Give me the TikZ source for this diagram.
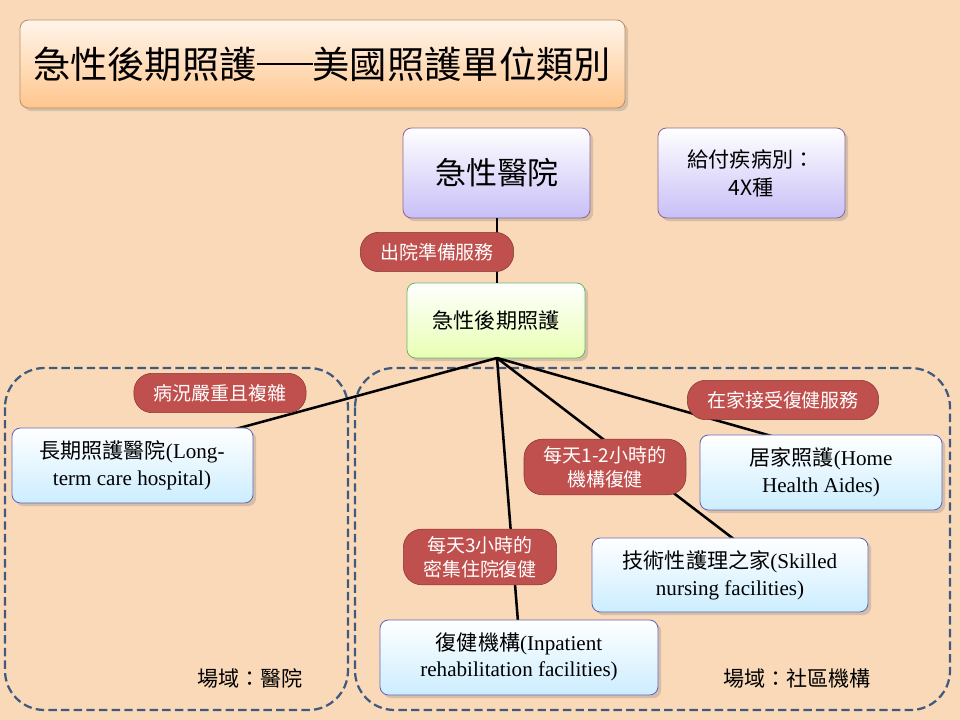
\documentclass[tikz,border=0pt]{standalone}
\usepackage{fontspec}
\setmainfont{Liberation Serif}
\newfontfamily\cjk{Noto Sans CJK TC}
\usetikzlibrary{shadows}
\definecolor{bg}{HTML}{FAD9B8}
\definecolor{pillred}{HTML}{C0504D}
\definecolor{frame}{HTML}{3F5A80}
\tikzset{
  box/.style={draw=#1!55!black!60, rounded corners=6pt, drop shadow={opacity=.3}, line width=.6pt},
  pill/.style={fill=pillred, draw=pillred!70!black, rounded corners=13pt, text=white, font=\cjk\fontsize{13.5}{17}\selectfont, align=center, inner xsep=14pt, minimum height=28pt},
  link/.style={line width=1.8pt, black},
  area/.style={draw=frame, dash pattern=on 6pt off 3pt, line width=1.6pt, rounded corners=28pt}
}
\begin{document}
\begin{tikzpicture}[x=0.025cm,y=-0.025cm]
  \fill[bg] (0,0) rectangle (960,720);
  \useasboundingbox (0,0) rectangle (960,720);

  % areas
  \draw[area] (5,368) rectangle (348,710);
  \draw[area] (355,368) rectangle (950,710);

  % title
  \draw[box=orange, top color=orange!8, bottom color=orange!45] (20,20) rectangle (625,108);
  \node (title) at (322,64) {\cjk\fontsize{26.5}{30}\selectfont 急性後期照護\rule[0.36em]{1.5em}{1.6pt}美國照護單位類別};

  % top boxes
  \draw[box=violet, top color=white, bottom color=violet!25!blue!25] (403,128) rectangle (590,218);
  \node (acute) at (497,173) {\cjk\fontsize{22}{26}\selectfont 急性醫院};
  \draw[box=violet, top color=white, bottom color=violet!25!blue!25] (658,128) rectangle (845,218);
  \node (pay) at (751,173) [align=center, font=\cjk\fontsize{15}{20}\selectfont] {給付疾病別：\\4X種};

  % post-acute
  \draw[box=green, top color=white, bottom color=green!30!yellow!30] (407,283) rectangle (585,358);
  \node (pac) at (496,320) {\cjk\fontsize{15}{18}\selectfont 急性後期照護};
  \coordinate (hub) at (497,358);

  % connectors
  \draw[link] (acute.south |- 0,218) -- (497,283);
  \draw[link] (hub) -- (232,430);
  \draw[link] (hub) -- (518,622);
  \draw[link] (hub) -- (735,540);
  \draw[link] (hub) -- (775,437);

  % unit boxes
  \tikzset{unit/.style={box=blue, top color=white, bottom color=blue!35!cyan!20}}
  \draw[unit] (12,428) rectangle (253,503);
  \node (ltch) at (132,465) [align=center, font=\fontsize{15}{19}\selectfont] {{\cjk 長期照護醫院}(Long-\\term care hospital)};
  \draw[unit] (700,435) rectangle (942,510);
  \node (home) at (821,472) [align=center, font=\fontsize{15}{19}\selectfont] {{\cjk 居家照護}(Home\\Health Aides)};
  \draw[unit] (592,538) rectangle (868,612);
  \node (snf) at (730,575) [align=center, font=\fontsize{15}{19}\selectfont] {{\cjk 技術性護理之家}(Skilled\\nursing facilities)};
  \draw[unit] (380,620) rectangle (658,695);
  \node (irf) at (519,657) [align=center, font=\fontsize{15}{19}\selectfont] {{\cjk 復健機構}(Inpatient\\rehabilitation facilities)};

  % pill labels
  \node[pill] (dis) at (437,252) {出院準備服務};
  \node[pill] (sev) at (220,393) {病況嚴重且複雜};
  \node[pill] (athome) at (783,400) {在家接受復健服務};
  \node[pill, inner sep=5pt, inner xsep=14pt] (day12) at (605,467) {每天1-2小時的\\機構復健};
  \node[pill, inner sep=5pt, inner xsep=14pt] (day3) at (480,557) {每天3小時的\\密集住院復健};

  % area labels
  \node (hosp) at (250,678) {\cjk\fontsize{15}{18}\selectfont 場域：醫院};
  \node (comm) at (797,678) {\cjk\fontsize{15}{18}\selectfont 場域：社區機構};
\end{tikzpicture}
\end{document}
